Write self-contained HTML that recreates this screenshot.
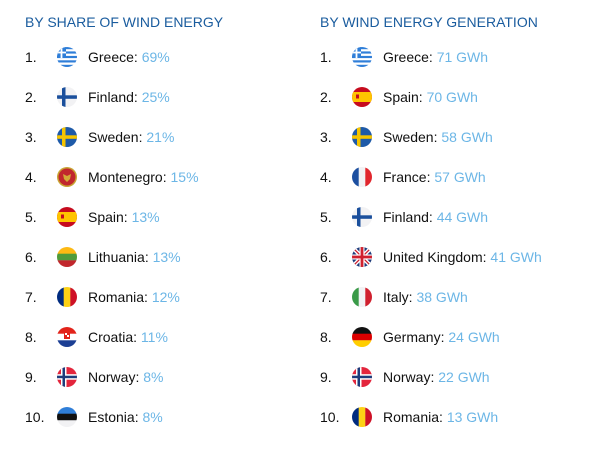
<!DOCTYPE html><html><head><meta charset="utf-8"><style>body{margin:0;background:#fff}svg{display:block}text{font-family:"Liberation Sans",Arial,sans-serif}</style></head><body>
<svg width="608" height="449" viewBox="0 0 608 449">
<defs>
<clipPath id="c" clipPathUnits="userSpaceOnUse"><circle cx="10" cy="10" r="10"/></clipPath>
<g id="gr"><rect width="20" height="20" fill="#fff"/><rect y="0" width="20" height="2.2" fill="#2f7ed8"/><rect y="4.4" width="20" height="2.2" fill="#2f7ed8"/><rect y="8.9" width="20" height="2.2" fill="#2f7ed8"/><rect y="13.3" width="20" height="2.2" fill="#2f7ed8"/><rect y="17.8" width="20" height="2.2" fill="#2f7ed8"/><rect width="9" height="11" fill="#2f7ed8"/><rect x="3.6" width="1.8" height="11" fill="#fff"/><rect y="4.6" width="9" height="1.8" fill="#fff"/></g>
<g id="fi"><rect width="20" height="20" fill="#f2f2f4"/><rect x="5" width="3.5" height="20" fill="#1a4f9c"/><rect y="8.3" width="20" height="3.5" fill="#1a4f9c"/></g>
<g id="se"><rect width="20" height="20" fill="#1e5aa8"/><rect x="5" width="3.5" height="20" fill="#f5c400"/><rect y="8.3" width="20" height="3.5" fill="#f5c400"/></g>
<g id="me"><rect width="20" height="20" fill="#c8a232"/><circle cx="10" cy="10" r="8.5" fill="#c1272d"/><path d="M6 7l4 2 4-2-1 5-3 3-3-3z" fill="#d4a937"/></g>
<g id="es"><rect width="20" height="20" fill="#c60b1e"/><rect y="5" width="20" height="10" fill="#ffc400"/><rect x="4" y="7.5" width="3" height="4" fill="#c60b1e"/></g>
<g id="lt"><rect width="20" height="7" fill="#fdb913"/><rect y="6.7" width="20" height="6.7" fill="#4f9b3a"/><rect y="13.3" width="20" height="7" fill="#c1272d"/></g>
<g id="ro"><rect width="7" height="20" fill="#002b7f"/><rect x="6.7" width="6.7" height="20" fill="#fcd116"/><rect x="13.3" width="7" height="20" fill="#ce1126"/></g>
<g id="hr"><rect width="20" height="7" fill="#e2231a"/><rect y="6.7" width="20" height="6.7" fill="#fff"/><rect y="13.3" width="20" height="7" fill="#1c3f94"/><rect x="7" y="5" width="6" height="7" fill="#e2231a"/><rect x="8" y="6" width="2" height="2" fill="#fff"/><rect x="10" y="8" width="2" height="2" fill="#fff"/></g>
<g id="no"><rect width="20" height="20" fill="#e3253c"/><rect x="4" width="5.5" height="20" fill="#fff"/><rect y="7.2" width="20" height="5.5" fill="#fff"/><rect x="5.5" width="2.5" height="20" fill="#1d3b7a"/><rect y="8.7" width="20" height="2.5" fill="#1d3b7a"/></g>
<g id="ee"><rect width="20" height="7" fill="#2f7ed8"/><rect y="6.7" width="20" height="6.7" fill="#111"/><rect y="13.3" width="20" height="7" fill="#f2f2f4"/></g>
<g id="fr"><rect width="7" height="20" fill="#1c4fa0"/><rect x="6.7" width="6.7" height="20" fill="#f2f2f4"/><rect x="13.3" width="7" height="20" fill="#e1262d"/></g>
<g id="uk"><rect width="20" height="20" fill="#1d3b7a"/><path d="M0 0L20 20M20 0L0 20" stroke="#fff" stroke-width="4"/><path d="M0 0L20 20M20 0L0 20" stroke="#d0202e" stroke-width="1.3"/><rect x="7.5" width="5" height="20" fill="#fff"/><rect y="7.5" width="20" height="5" fill="#fff"/><rect x="8.6" width="2.8" height="20" fill="#d0202e"/><rect y="8.6" width="20" height="2.8" fill="#d0202e"/></g>
<g id="it"><rect width="7" height="20" fill="#3a9a48"/><rect x="6.7" width="6.7" height="20" fill="#f2f2f4"/><rect x="13.3" width="7" height="20" fill="#d0202e"/></g>
<g id="de"><rect width="20" height="7" fill="#111"/><rect y="6.7" width="20" height="6.7" fill="#dd0000"/><rect y="13.3" width="20" height="7" fill="#ffce00"/></g>
</defs>
<g font-size="14" fill="#1a5c9e"><text x="25" y="27">BY SHARE OF WIND ENERGY</text><text x="320" y="27">BY WIND ENERGY GENERATION</text></g>
<g font-size="14" fill="#111">
<text x="25" y="62">1.</text><text x="25" y="102">2.</text><text x="25" y="142">3.</text><text x="25" y="182">4.</text><text x="25" y="222">5.</text><text x="25" y="262">6.</text><text x="25" y="302">7.</text><text x="25" y="342">8.</text><text x="25" y="382">9.</text><text x="25" y="422">10.</text>
<text x="320" y="62">1.</text><text x="320" y="102">2.</text><text x="320" y="142">3.</text><text x="320" y="182">4.</text><text x="320" y="222">5.</text><text x="320" y="262">6.</text><text x="320" y="302">7.</text><text x="320" y="342">8.</text><text x="320" y="382">9.</text><text x="320" y="422">10.</text>
<text x="88" y="62">Greece: <tspan fill="#6cb6e6">69%</tspan></text>
<text x="88" y="102">Finland: <tspan fill="#6cb6e6">25%</tspan></text>
<text x="88" y="142">Sweden: <tspan fill="#6cb6e6">21%</tspan></text>
<text x="88" y="182">Montenegro: <tspan fill="#6cb6e6">15%</tspan></text>
<text x="88" y="222">Spain: <tspan fill="#6cb6e6">13%</tspan></text>
<text x="88" y="262">Lithuania: <tspan fill="#6cb6e6">13%</tspan></text>
<text x="88" y="302">Romania: <tspan fill="#6cb6e6">12%</tspan></text>
<text x="88" y="342">Croatia: <tspan fill="#6cb6e6">11%</tspan></text>
<text x="88" y="382">Norway: <tspan fill="#6cb6e6">8%</tspan></text>
<text x="88" y="422">Estonia: <tspan fill="#6cb6e6">8%</tspan></text>
<text x="383" y="62">Greece: <tspan fill="#6cb6e6">71 GWh</tspan></text>
<text x="383" y="102">Spain: <tspan fill="#6cb6e6">70 GWh</tspan></text>
<text x="383" y="142">Sweden: <tspan fill="#6cb6e6">58 GWh</tspan></text>
<text x="383" y="182">France: <tspan fill="#6cb6e6">57 GWh</tspan></text>
<text x="383" y="222">Finland: <tspan fill="#6cb6e6">44 GWh</tspan></text>
<text x="383" y="262">United Kingdom: <tspan fill="#6cb6e6">41 GWh</tspan></text>
<text x="383" y="302">Italy: <tspan fill="#6cb6e6">38 GWh</tspan></text>
<text x="383" y="342">Germany: <tspan fill="#6cb6e6">24 GWh</tspan></text>
<text x="383" y="382">Norway: <tspan fill="#6cb6e6">22 GWh</tspan></text>
<text x="383" y="422">Romania: <tspan fill="#6cb6e6">13 GWh</tspan></text>
</g>
<g transform="translate(57,47)" clip-path="url(#c)"><use href="#gr"/></g>
<g transform="translate(57,87)" clip-path="url(#c)"><use href="#fi"/></g>
<g transform="translate(57,127)" clip-path="url(#c)"><use href="#se"/></g>
<g transform="translate(57,167)" clip-path="url(#c)"><use href="#me"/></g>
<g transform="translate(57,207)" clip-path="url(#c)"><use href="#es"/></g>
<g transform="translate(57,247)" clip-path="url(#c)"><use href="#lt"/></g>
<g transform="translate(57,287)" clip-path="url(#c)"><use href="#ro"/></g>
<g transform="translate(57,327)" clip-path="url(#c)"><use href="#hr"/></g>
<g transform="translate(57,367)" clip-path="url(#c)"><use href="#no"/></g>
<g transform="translate(57,407)" clip-path="url(#c)"><use href="#ee"/></g>
<g transform="translate(352,47)" clip-path="url(#c)"><use href="#gr"/></g>
<g transform="translate(352,87)" clip-path="url(#c)"><use href="#es"/></g>
<g transform="translate(352,127)" clip-path="url(#c)"><use href="#se"/></g>
<g transform="translate(352,167)" clip-path="url(#c)"><use href="#fr"/></g>
<g transform="translate(352,207)" clip-path="url(#c)"><use href="#fi"/></g>
<g transform="translate(352,247)" clip-path="url(#c)"><use href="#uk"/></g>
<g transform="translate(352,287)" clip-path="url(#c)"><use href="#it"/></g>
<g transform="translate(352,327)" clip-path="url(#c)"><use href="#de"/></g>
<g transform="translate(352,367)" clip-path="url(#c)"><use href="#no"/></g>
<g transform="translate(352,407)" clip-path="url(#c)"><use href="#ro"/></g>
</svg>
</body></html>
